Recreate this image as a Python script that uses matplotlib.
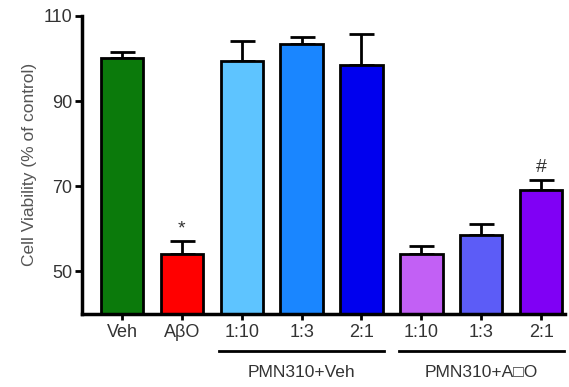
import matplotlib
matplotlib.use('Agg')
from matplotlib import pyplot as plt
import numpy as np

plt.rcParams['font.family'] = ['Liberation Sans', 'DejaVu Sans']

# data
labels = ['Veh', 'A\u03b2O', '1:10', '1:3', '2:1', '1:10', '1:3', '2:1']
means = [100, 54, 99.5, 103.5, 98.5, 54, 58.5, 69]
errs = [1.5, 3, 4.5, 1.5, 7.3, 2, 2.5, 2.5]
colors = ['#0b7a0b', '#ff0000', '#5ec4ff', '#1a86ff', '#0000ee', '#c260f5', '#5c5cf7', '#8000f5']
marks = ['', '*', '', '', '', '', '', '#']
groups = [('PMN310+Veh', 2, 4), ('PMN310+A\u25a1O', 5, 7)]

fig = plt.figure(figsize=(5.69, 3.87), dpi=100)
ax = fig.add_axes([0.144, 0.189, 0.849, 0.77])

x = np.arange(len(means))
ax.bar(x, means, width=0.71, color=colors, edgecolor='black', linewidth=2, zorder=2)
ax.errorbar(x, means, yerr=[np.zeros(len(errs)), errs], fmt='none', ecolor='black',
            elinewidth=2, capsize=9, capthick=2, zorder=1)

for xi, m, e, s in zip(x, means, errs, marks):
    if s:
        ax.text(xi, m + e + 1.0, s, ha='center', va='bottom', fontsize=14, color='#333333')

ax.set_ylim(40, 110)
ax.set_xlim(-0.67, 7.4)
ax.set_yticks([50, 70, 90, 110])
ax.set_xticks(x)
ax.set_xticklabels(labels, fontsize=13, color='#333333')
ax.tick_params(axis='y', labelsize=13, labelcolor='#333333', width=2, length=5, pad=2)
ax.tick_params(axis='x', width=2, length=4, pad=3)
ax.set_ylabel('Cell Viability (% of control)', fontsize=12.5, color='#555555', labelpad=5)

for side in ['top', 'right']:
    ax.spines[side].set_visible(False)
for side in ['left', 'bottom']:
    ax.spines[side].set_linewidth(2.5)

# group bars under the axis
trans = ax.get_xaxis_transform()
for name, a, b in groups:
    ax.plot([a - 0.38, b + 0.38], [-0.125, -0.125], color='black', lw=2, transform=trans, clip_on=False)
    ax.text((a + b) / 2, -0.17, name, ha='center', va='top', fontsize=12.5, color='#333333', transform=trans)

fig.savefig('out.png', dpi=100)
